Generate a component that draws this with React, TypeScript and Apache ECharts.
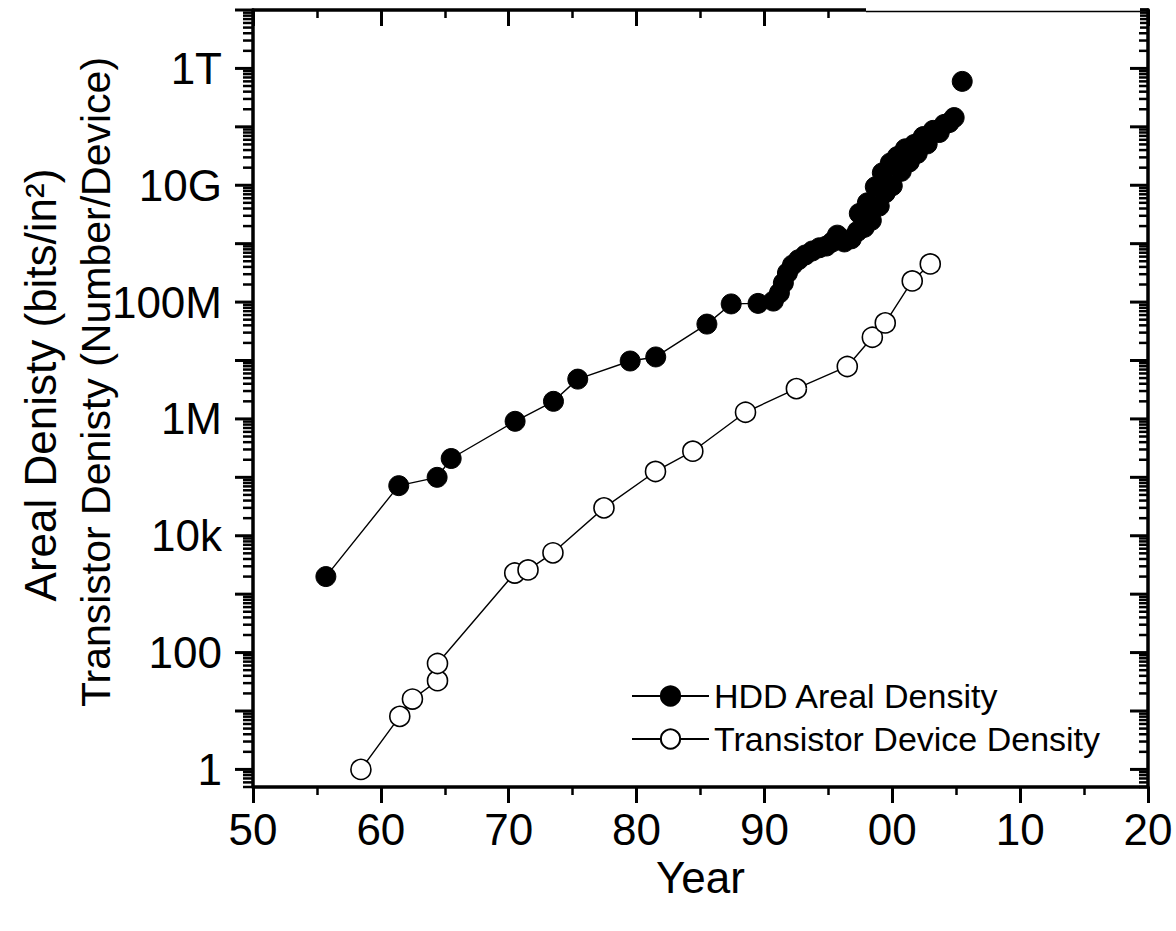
import { useEffect, useRef } from 'react';
import * as echarts from 'echarts';

// ---- data ----
const hddYears = [
  55.7, 61.4, 64.4, 65.5, 70.5, 73.5, 75.4, 79.5, 81.5, 85.5, 87.4, 89.5,
  90.7, 91.17, 91.48, 91.8, 92.19, 92.66, 93.2, 93.75, 94.3, 94.84, 95.31, 95.7,
  96.25, 96.8, 97.27, 97.42, 97.81, 98.05, 98.36, 98.67, 98.98, 99.22, 99.45,
  99.84, 100.0, 100.39, 100.7, 101.02, 101.33, 101.72, 101.95, 102.42, 102.73,
  103.2, 103.67, 104.06, 104.45, 104.84,
];
const hddDensity = [
  2.0e3, 7.2e4, 1.0e5, 2.1e5, 9.1e5, 2.0e6, 4.8e6, 9.8e6, 1.15e7, 4.2e7, 9.3e7, 9.5e7,
  1.04e8, 1.43e8, 2.12e8, 3.15e8, 4.3e8, 5.3e8, 6.4e8, 7.5e8, 8.5e8, 9.1e8, 1.07e9, 1.4e9,
  1.07e9, 1.21e9, 1.62e9, 3.3e9, 1.9e9, 5.0e9, 2.5e9, 9.4e9, 4.4e9, 1.63e10, 7.4e9,
  2.4e10, 9.8e9, 3.1e10, 1.73e10, 4.2e10, 2.5e10, 5.0e10, 3.5e10, 6.8e10, 5.1e10,
  8.7e10, 8.0e10, 1.1e11, 1.18e11, 1.44e11,
];
const hddLatestYears = [105.47];
const hddLatestDensity = [6.0e11];

const transistorYears = [
  58.44, 61.48, 62.47, 64.43, 64.43, 70.47, 71.51, 73.46, 77.45, 81.48, 84.4,
  88.52, 92.5, 96.48, 98.44, 99.45, 101.56, 102.97,
];
const transistorDensity = [
  1.0, 8.1, 16, 33, 65, 2300, 2600, 5100, 3.0e4, 1.26e5, 2.8e5,
  1.3e6, 3.3e6, 7.9e6, 2.5e7, 4.4e7, 2.3e8, 4.5e8,
];

const seriesNames = ['HDD Areal Density', 'Transistor Device Density'];
const yTickLabels: Record<number, string> = {
  0: '1', 2: '100', 4: '10k', 6: '1M', 8: '100M', 10: '10G', 12: '1T',
};
const yAxisTitleLines = ['Areal Denisty (bits/in²)', 'Transistor Denisty (Number/Device)'];
const xAxisTitle = 'Year';

const X_MIN = 50;
const X_MAX = 120;
const Y_MIN = 0.5;
const Y_MAX = 1e13;
const minorMantissas = [2, 3, 4, 5, 6, 7, 8, 9];
const decadeExponents = [-1, 0, 1, 2, 3, 4, 5, 6, 7, 8, 9, 10, 11, 12, 13];

const FONT = '"Liberation Sans", Arial, Helvetica, sans-serif';

const zip = (xs: number[], ys: number[]) => xs.map((x, i) => [x, ys[i]]);

function tickSeries(values: number[][], outLen: number, inLen: number, width: number) {
  return {
    type: 'custom',
    xAxisIndex: 0,
    yAxisIndex: 0,
    silent: true,
    clip: false,
    encode: { x: 0, y: 1 },
    data: values,
    renderItem: (_params: any, api: any) => {
      const v = api.value(1);
      const l = api.coord([X_MIN, v]);
      const r = api.coord([X_MAX, v]);
      return {
        type: 'group',
        children: [
          { type: 'line', shape: { x1: l[0] - outLen, y1: l[1], x2: l[0], y2: l[1] }, style: { stroke: '#000', lineWidth: width } },
          { type: 'line', shape: { x1: r[0] - inLen, y1: r[1], x2: r[0], y2: r[1] }, style: { stroke: '#000', lineWidth: width } },
        ],
      };
    },
    z: 4,
  };
}

export default function App() {
  const ref = useRef<HTMLDivElement>(null);

  useEffect(() => {
    if (!ref.current) return;
    const chart = echarts.init(ref.current, null, { renderer: 'svg' });

    const majorValues: number[][] = [];
    const minorValues: number[][] = [];
    decadeExponents.forEach((e) => {
      const d = Math.pow(10, e);
      if (d >= Y_MIN && d <= Y_MAX) majorValues.push([X_MIN, d]);
      minorMantissas.forEach((m) => {
        const v = m * d;
        if (v >= Y_MIN && v <= Y_MAX) minorValues.push([X_MIN, v]);
      });
    });

    const axisLine = { show: true, lineStyle: { color: '#000', width: 3.5 } };

    const yLabel = (v: number) => {
      const lg = Math.log10(v);
      const e = Math.round(lg);
      if (Math.abs(lg - e) > 1e-6) return '';
      return yTickLabels[e] ?? '';
    };

    const xLabel = (v: number) => {
      const r = Math.round(v) % 100;
      return r < 10 ? '0' + r : String(r);
    };

    const filledStyle = { color: '#000', borderColor: '#000', borderWidth: 1, opacity: 1 };
    const openStyle = { color: '#fff', borderColor: '#000', borderWidth: 1.6, opacity: 1 };

    chart.setOption({
      animation: false,
      backgroundColor: '#fff',
      textStyle: { fontFamily: FONT },
      grid: { left: 253, right: 28, top: 10, bottom: 144 },
      legend: {
        data: seriesNames,
        orient: 'vertical',
        left: 626,
        top: 674,
        itemWidth: 77,
        itemHeight: 24,
        itemGap: 9,
        selectedMode: false,
        textStyle: { fontSize: 34, color: '#000', fontFamily: FONT, lineHeight: 34 },
      },
      xAxis: [
        {
          type: 'value',
          position: 'bottom',
          min: X_MIN,
          max: X_MAX,
          interval: 10,
          name: xAxisTitle,
          nameLocation: 'middle',
          nameGap: 66,
          nameTextStyle: { fontSize: 44, color: '#000', fontFamily: FONT },
          axisLine,
          axisTick: { show: true, inside: false, length: 16, lineStyle: { color: '#000', width: 3 } },
          minorTick: { show: true, splitNumber: 2, length: 8, lineStyle: { color: '#000', width: 2.5 } },
          axisLabel: { show: true, margin: 20, fontSize: 44, color: '#000', fontFamily: FONT, formatter: xLabel },
          splitLine: { show: false },
        },
        {
          type: 'value',
          position: 'top',
          min: X_MIN,
          max: X_MAX,
          interval: 10,
          axisLine,
          axisTick: { show: true, inside: true, length: 16, lineStyle: { color: '#000', width: 3 } },
          minorTick: { show: true, splitNumber: 2, length: 8, lineStyle: { color: '#000', width: 2.5 } },
          axisLabel: { show: false },
          splitLine: { show: false },
        },
      ],
      yAxis: [
        {
          type: 'log',
          logBase: 100,
          position: 'left',
          min: Y_MIN,
          max: Y_MAX,
          axisLine,
          axisTick: { show: false },
          axisLabel: { show: true, margin: 31, fontSize: 44, color: '#000', fontFamily: FONT, formatter: yLabel },
          splitLine: { show: false },
        },
        {
          type: 'log',
          logBase: 100,
          position: 'right',
          min: Y_MIN,
          max: Y_MAX,
          axisLine,
          axisTick: { show: false },
          axisLabel: { show: false },
          splitLine: { show: false },
        },
      ],
      graphic: [
        {
          type: 'text',
          x: 40,
          y: 385,
          rotation: Math.PI / 2,
          style: {
            text: yAxisTitleLines[0],
            fontSize: 44,
            fontFamily: FONT,
            fill: '#000',
            textAlign: 'center',
            textVerticalAlign: 'middle',
          },
        },
        {
          type: 'text',
          x: 96,
          y: 382,
          rotation: Math.PI / 2,
          style: {
            text: yAxisTitleLines[1],
            fontSize: 41,
            fontFamily: FONT,
            fill: '#000',
            textAlign: 'center',
            textVerticalAlign: 'middle',
          },
        },
        // the reference has a pasted-over strip along the top-right of the frame
        {
          type: 'rect',
          z: 100,
          shape: { x: 866, y: 0, width: 274, height: 30 },
          style: { fill: '#fff' },
        },
        {
          type: 'line',
          z: 101,
          shape: { x1: 866, y1: 11.5, x2: 1140, y2: 11.5 },
          style: { stroke: '#000', lineWidth: 1.6 },
        },
      ],
      series: [
        {
          name: seriesNames[0],
          type: 'line',
          xAxisIndex: 0,
          yAxisIndex: 0,
          data: zip(hddYears, hddDensity),
          symbol: 'circle',
          symbolSize: 20,
          showAllSymbol: true,
          lineStyle: { color: '#000', width: 1.4 },
          itemStyle: filledStyle,
          z: 3,
        },
        {
          name: seriesNames[0],
          type: 'scatter',
          xAxisIndex: 0,
          yAxisIndex: 0,
          data: zip(hddLatestYears, hddLatestDensity),
          symbol: 'circle',
          symbolSize: 20,
          itemStyle: filledStyle,
          z: 3,
        },
        {
          name: seriesNames[1],
          type: 'line',
          xAxisIndex: 0,
          yAxisIndex: 0,
          data: zip(transistorYears, transistorDensity),
          symbol: 'circle',
          symbolSize: 20,
          showAllSymbol: true,
          lineStyle: { color: '#000', width: 1.4 },
          itemStyle: openStyle,
          z: 3,
        },
        tickSeries(majorValues, 18, 18, 3),
        tickSeries(minorValues, 10, 9, 2.5),
      ],
    });

    return () => chart.dispose();
  }, []);

  return (
    <div
      ref={ref}
      style={{ position: 'absolute', left: 0, top: 0, width: 1176, height: 931, background: '#fff' }}
    />
  );
}
